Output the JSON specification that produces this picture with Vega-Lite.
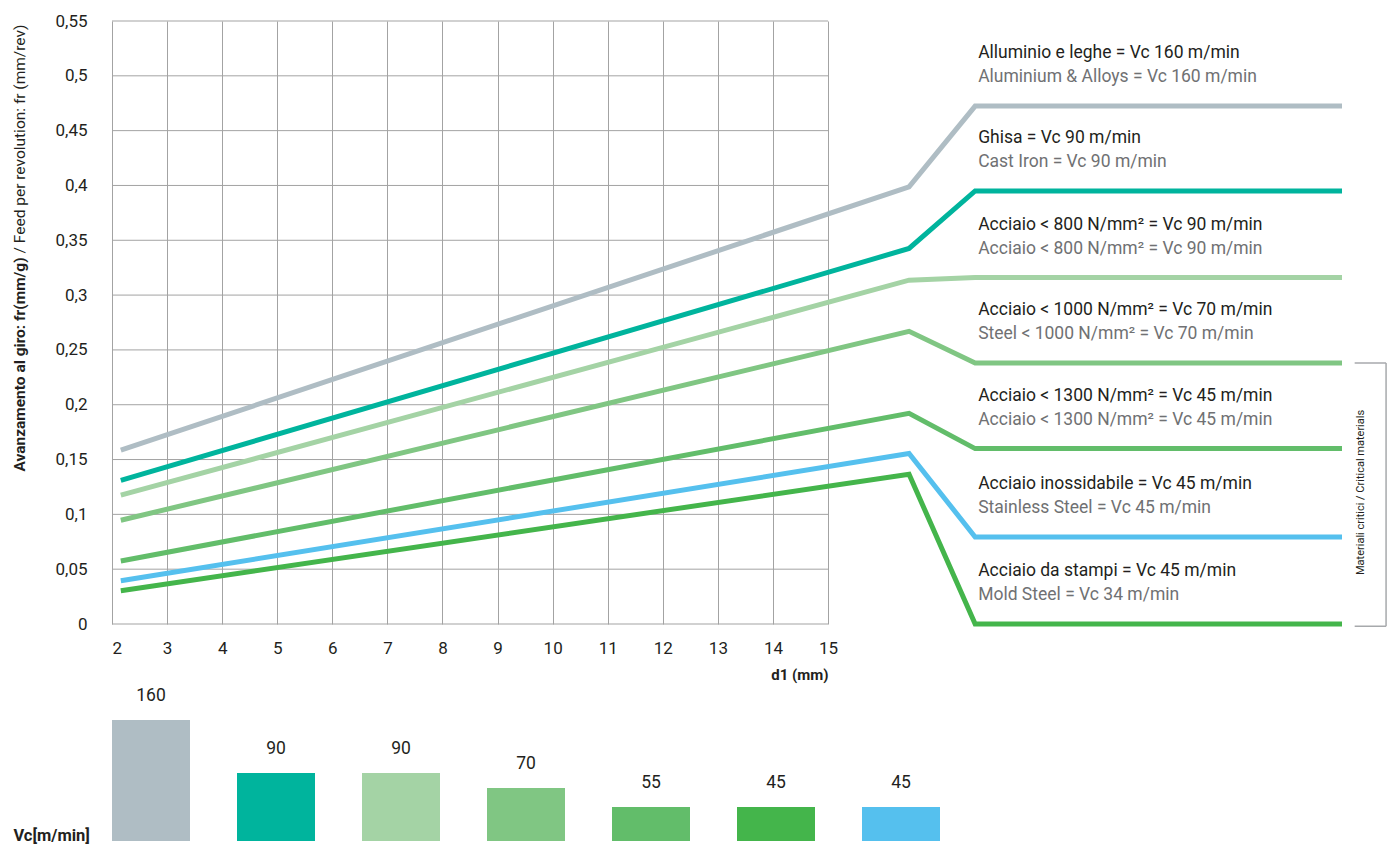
{
  "$schema": "https://vega.github.io/schema/vega-lite/v6.json",
  "background": "white",
  "padding": {"left": 12, "top": 12, "right": 0, "bottom": 0},
  "spacing": 0,
  "config": {
    "font": "Roboto",
    "view": {"stroke": null},
    "axis": {"labelColor": "#231f20", "titleColor": "#231f20"}
  },
  "datasets": {
    "lines": [
      {"material": "Alluminio", "x": 2.16, "y": 0.1585},
      {"material": "Alluminio", "x": 16.47, "y": 0.3987},
      {"material": "Alluminio", "x": 17.67, "y": 0.4724},
      {"material": "Alluminio", "x": 24.33, "y": 0.4724},
      {"material": "Ghisa", "x": 2.16, "y": 0.131},
      {"material": "Ghisa", "x": 16.47, "y": 0.3425},
      {"material": "Ghisa", "x": 17.67, "y": 0.395},
      {"material": "Ghisa", "x": 24.33, "y": 0.395},
      {"material": "Acciaio < 800", "x": 2.16, "y": 0.1175},
      {"material": "Acciaio < 800", "x": 16.47, "y": 0.3136},
      {"material": "Acciaio < 800", "x": 17.67, "y": 0.316},
      {"material": "Acciaio < 800", "x": 24.33, "y": 0.316},
      {"material": "Acciaio < 1000", "x": 2.16, "y": 0.0946},
      {"material": "Acciaio < 1000", "x": 16.47, "y": 0.267},
      {"material": "Acciaio < 1000", "x": 17.67, "y": 0.238},
      {"material": "Acciaio < 1000", "x": 24.33, "y": 0.238},
      {"material": "Acciaio < 1300", "x": 2.16, "y": 0.0575},
      {"material": "Acciaio < 1300", "x": 16.47, "y": 0.1922},
      {"material": "Acciaio < 1300", "x": 17.67, "y": 0.16},
      {"material": "Acciaio < 1300", "x": 24.33, "y": 0.16},
      {"material": "Acciaio inossidabile", "x": 2.16, "y": 0.0394},
      {"material": "Acciaio inossidabile", "x": 16.47, "y": 0.1555},
      {"material": "Acciaio inossidabile", "x": 17.67, "y": 0.0794},
      {"material": "Acciaio inossidabile", "x": 24.33, "y": 0.0794},
      {"material": "Acciaio da stampi", "x": 2.16, "y": 0.0303},
      {"material": "Acciaio da stampi", "x": 16.47, "y": 0.1366},
      {"material": "Acciaio da stampi", "x": 17.67, "y": 0.0},
      {"material": "Acciaio da stampi", "x": 24.33, "y": 0.0}
    ],
    "notes": [
      {"material": "Alluminio", "x": 17.67, "y": 0.4724, "it": "Alluminio e leghe = Vc 160 m/min", "en": "Aluminium & Alloys = Vc 160 m/min"},
      {"material": "Ghisa", "x": 17.67, "y": 0.395, "it": "Ghisa = Vc 90 m/min", "en": "Cast Iron = Vc 90 m/min"},
      {"material": "Acciaio < 800", "x": 17.67, "y": 0.316, "it": "Acciaio < 800 N/mm² = Vc 90 m/min", "en": "Acciaio < 800 N/mm² = Vc 90 m/min"},
      {"material": "Acciaio < 1000", "x": 17.67, "y": 0.238, "it": "Acciaio < 1000 N/mm² = Vc 70 m/min", "en": "Steel < 1000 N/mm² = Vc 70 m/min"},
      {"material": "Acciaio < 1300", "x": 17.67, "y": 0.16, "it": "Acciaio < 1300 N/mm² = Vc 45 m/min", "en": "Acciaio < 1300 N/mm² = Vc 45 m/min"},
      {"material": "Acciaio inossidabile", "x": 17.67, "y": 0.0794, "it": "Acciaio inossidabile = Vc 45 m/min", "en": "Stainless Steel = Vc 45 m/min"},
      {"material": "Acciaio da stampi", "x": 17.67, "y": 0.0, "it": "Acciaio da stampi = Vc 45 m/min", "en": "Mold Steel = Vc 34 m/min"}
    ],
    "hgrid": [
      {"y": 0}, {"y": 0.05}, {"y": 0.1}, {"y": 0.15}, {"y": 0.2}, {"y": 0.25},
      {"y": 0.3}, {"y": 0.35}, {"y": 0.4}, {"y": 0.45}, {"y": 0.5}, {"y": 0.55}
    ],
    "bracket": [
      {"x": 25.13, "x2": 25.13, "y": 0.238, "y2": -0.002},
      {"x": 24.56, "x2": 25.13, "y": 0.238, "y2": 0.238},
      {"x": 24.56, "x2": 25.13, "y": -0.002, "y2": -0.002}
    ],
    "bracketText": [
      {"t": "Materiali critici / Critical materials", "x": 24.725, "y": 0.12}
    ],
    "ytitleBold": [
      {"t": "Avanzamento al giro: fr(mm/g)", "x": 0.415, "y": 0.3344}
    ],
    "ytitleNormal": [
      {"t": "/ Feed per revolution: fr (mm/rev)", "x": 0.415, "y": 0.338}
    ],
    "bars": [
      {"material": "Alluminio", "vc": "160", "bar": 160},
      {"material": "Ghisa", "vc": "90", "bar": 90},
      {"material": "Acciaio < 800", "vc": "90", "bar": 90},
      {"material": "Acciaio < 1000", "vc": "70", "bar": 70},
      {"material": "Acciaio < 1300", "vc": "55", "bar": 45},
      {"material": "Acciaio da stampi", "vc": "45", "bar": 45},
      {"material": "Acciaio inossidabile", "vc": "45", "bar": 45}
    ]
  },
  "vconcat": [
    {
      "width": 1230,
      "height": 603,
      "layer": [
        {
          "data": {"name": "hgrid"},
          "mark": {"type": "rule", "color": "#a3a3a3", "strokeWidth": 1},
          "encoding": {
            "x": {"datum": 2, "type": "quantitative"},
            "x2": {"datum": 15},
            "y": {"field": "y", "type": "quantitative"}
          }
        },
        {
          "data": {"name": "lines"},
          "mark": {"type": "line", "strokeWidth": 5, "strokeJoin": "miter"},
          "encoding": {
            "x": {
              "field": "x", "type": "quantitative",
              "scale": {"domain": [2, 24.33], "nice": false, "zero": false},
              "axis": {
                "values": [2, 3, 4, 5, 6, 7, 8, 9, 10, 11, 12, 13, 14, 15],
                "grid": true, "gridColor": "#a3a3a3", "gridWidth": 1,
                "domain": false, "ticks": false, "tickSize": 0,
                "labelFontSize": 17, "labelPadding": 16,
                "title": "d1 (mm)", "titleFontSize": 15, "titleFontWeight": "bold",
                "titleAlign": "right", "titleBaseline": "alphabetic",
                "titleX": 716, "titleY": 55
              }
            },
            "y": {
              "field": "y", "type": "quantitative",
              "scale": {"domain": [0, 0.55], "nice": false},
              "axis": {
                "values": [0, 0.05, 0.1, 0.15, 0.2, 0.25, 0.3, 0.35, 0.4, 0.45, 0.5, 0.55],
                "labelExpr": "replace(format(datum.value, '.2~f'), '.', ',')",
                "grid": false, "domain": false, "ticks": false, "tickSize": 0,
                "labelFontSize": 17, "labelPadding": 25, "title": null
              }
            },
            "color": {
              "field": "material", "type": "nominal", "legend": null,
              "scale": {
                "domain": ["Alluminio", "Ghisa", "Acciaio < 800", "Acciaio < 1000", "Acciaio < 1300", "Acciaio da stampi", "Acciaio inossidabile"],
                "range": ["#afbdc4", "#00b49d", "#a4d3a5", "#80c683", "#62bd6a", "#44b54b", "#55c0ee"]
              }
            },
            "order": {"field": "x"}
          }
        },
        {
          "data": {"name": "notes"},
          "mark": {"type": "text", "align": "left", "baseline": "alphabetic", "dx": 3, "dy": -48, "fontSize": 17.5, "color": "#231f20"},
          "encoding": {
            "x": {"field": "x", "type": "quantitative"},
            "y": {"field": "y", "type": "quantitative"},
            "text": {"field": "it"}
          }
        },
        {
          "data": {"name": "notes"},
          "mark": {"type": "text", "align": "left", "baseline": "alphabetic", "dx": 3, "dy": -24, "fontSize": 17.5, "color": "#707173"},
          "encoding": {
            "x": {"field": "x", "type": "quantitative"},
            "y": {"field": "y", "type": "quantitative"},
            "text": {"field": "en"}
          }
        },
        {
          "data": {"name": "bracket"},
          "mark": {"type": "rule", "color": "#a7a9ac", "strokeWidth": 1.5},
          "encoding": {
            "x": {"field": "x", "type": "quantitative"},
            "x2": {"field": "x2"},
            "y": {"field": "y", "type": "quantitative"},
            "y2": {"field": "y2"}
          }
        },
        {
          "data": {"name": "bracketText"},
          "mark": {"type": "text", "angle": 270, "align": "center", "baseline": "alphabetic", "fontSize": 11, "color": "#231f20"},
          "encoding": {
            "x": {"field": "x", "type": "quantitative"},
            "y": {"field": "y", "type": "quantitative"},
            "text": {"field": "t"}
          }
        },
        {
          "data": {"name": "ytitleBold"},
          "mark": {"type": "text", "angle": 270, "align": "right", "baseline": "alphabetic", "fontSize": 15.5, "fontWeight": "bold", "color": "#231f20"},
          "encoding": {
            "x": {"field": "x", "type": "quantitative"},
            "y": {"field": "y", "type": "quantitative"},
            "text": {"field": "t"}
          }
        },
        {
          "data": {"name": "ytitleNormal"},
          "mark": {"type": "text", "angle": 270, "align": "left", "baseline": "alphabetic", "fontSize": 15.5, "color": "#231f20"},
          "encoding": {
            "x": {"field": "x", "type": "quantitative"},
            "y": {"field": "y", "type": "quantitative"},
            "text": {"field": "t"}
          }
        }
      ]
    },
    {
      "width": 828,
      "height": 159,
      "data": {"name": "bars"},
      "layer": [
        {
          "mark": {"type": "bar"},
          "encoding": {
            "x": {"field": "material", "type": "nominal", "sort": null, "axis": null,
                  "scale": {"paddingInner": 0.376, "paddingOuter": 0}},
            "y": {
              "field": "bar", "type": "quantitative",
              "scale": {"domain": [0, 210.3], "nice": false},
              "axis": {
                "title": "Vc[m/min]", "titleAngle": 0, "titleAlign": "right", "titleBaseline": "alphabetic",
                "titleX": -22.6, "titleY": 158, "titleFontSize": 16.5, "titleFontWeight": "bold",
                "labels": false, "ticks": false, "domain": false, "grid": false
              }
            },
            "color": {
              "field": "material", "type": "nominal", "legend": null,
              "scale": {
                "domain": ["Alluminio", "Ghisa", "Acciaio < 800", "Acciaio < 1000", "Acciaio < 1300", "Acciaio da stampi", "Acciaio inossidabile"],
                "range": ["#afbdc4", "#00b49d", "#a4d3a5", "#80c683", "#62bd6a", "#44b54b", "#55c0ee"]
              }
            }
          }
        },
        {
          "mark": {"type": "text", "baseline": "alphabetic", "dy": -19, "fontSize": 17.5, "color": "#231f20"},
          "encoding": {
            "x": {"field": "material", "type": "nominal", "sort": null},
            "y": {"field": "bar", "type": "quantitative"},
            "text": {"field": "vc"}
          }
        }
      ]
    }
  ]
}
